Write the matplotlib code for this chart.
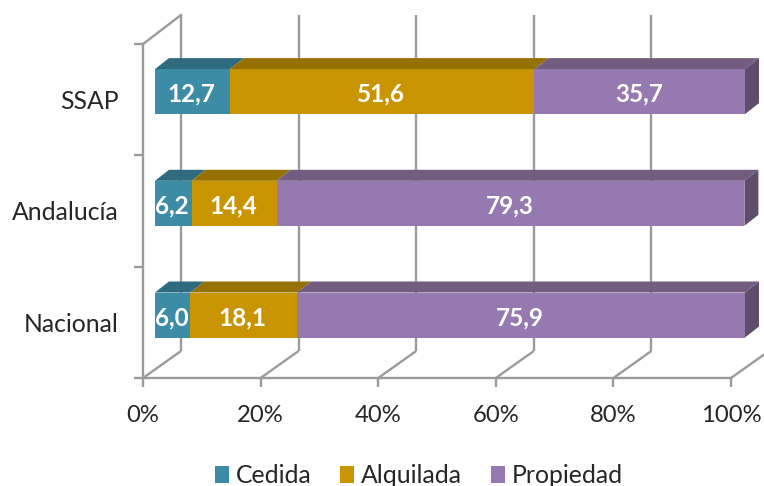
import numpy as np
import matplotlib
matplotlib.use("Agg")
import matplotlib.pyplot as plt
from matplotlib.patches import Polygon, Patch

# Stacked horizontal 3D-look bar chart, drawn on a flat axes
categories = ["Nacional", "Andalucía", "SSAP"]
series_names = ["Cedida", "Alquilada", "Propiedad"]
cedida = [6.0, 6.2, 12.7]
alquilada = [18.1, 14.4, 51.6]
propiedad = [75.9, 79.3, 35.7]
x_ticks = [0, 20, 40, 60, 80, 100]

front_colors = ["#3D8CA5", "#C89500", "#9579B0"]
top_colors = ["#2F6B7E", "#967000", "#725D80"]
side_color = "#5F4D6E"
grid_color = "#9B9B9B"
text_color = "#262626"

plt.rcParams["font.family"] = ["Lato", "DejaVu Sans"]

fig = plt.figure(figsize=(7.64, 4.86), dpi=100)
ax = fig.add_axes([0, 0, 1, 1])

# one data unit in x = 5.9 px, one category step = 112 px
xu = 5.9
yu = 111.7
ax.set_xlim(-155 / xu, (764 - 155) / xu)
ax.set_ylim((315 - 486) / yu, 315 / yu)
ax.axis("off")

# axis box in data units
ax_x0 = -12 / xu
ax_scale = 588 / 590
floor_y = -63 / yu
step_y = 111.3 / yu
wall_dx = 38 / xu
wall_dy = 27 / yu
wall_h = 336 / yu
bar_h = 45 / yu
bar_dx = 14 / xu
bar_dy = 11 / yu

# gridlines on back wall and floor
for t in x_ticks:
    fx = ax_x0 + t * ax_scale
    ax.plot([fx, fx + wall_dx], [floor_y, floor_y + wall_dy], color=grid_color, lw=1.7, solid_capstyle="butt")
    ax.plot([fx + wall_dx, fx + wall_dx], [floor_y + wall_dy, floor_y + wall_dy + wall_h], color=grid_color, lw=1.7, solid_capstyle="butt")
    ax.plot([fx, fx], [floor_y, floor_y - 9 / yu], color=grid_color, lw=1.7, solid_capstyle="butt")
    ax.text(fx, floor_y - 37 / yu, "%d%%" % t, ha="center", va="center", fontsize=17.2, color=text_color)

# left wall and front axis lines
top_y = floor_y + 3 * step_y
ax.plot([ax_x0, ax_x0], [floor_y, top_y], color=grid_color, lw=1.7)
ax.plot([ax_x0, ax_x0 + wall_dx], [top_y, floor_y + wall_dy + wall_h], color=grid_color, lw=1.7)
ax.plot([ax_x0, ax_x0 + 100 * ax_scale], [floor_y, floor_y], color=grid_color, lw=1.7)
for i in range(4):
    yt = floor_y + i * step_y
    ax.plot([ax_x0 - 9 / xu, ax_x0], [yt, yt], color=grid_color, lw=1.7, solid_capstyle="butt")

# bars
values = np.array([cedida, alquilada, propiedad])
y_pos = np.arange(len(categories))
left = np.zeros(len(categories))
for s in range(len(series_names)):
    ax.barh(y_pos, values[s], left=left, height=bar_h, color=front_colors[s], zorder=3)
    for i in y_pos:
        x0 = left[i]
        x1 = left[i] + values[s][i]
        yt = y_pos[i] + bar_h / 2
        ax.add_patch(Polygon([(x0, yt), (x1, yt), (x1 + bar_dx, yt + bar_dy), (x0 + bar_dx, yt + bar_dy)],
                             closed=True, facecolor=top_colors[s], edgecolor="none", zorder=3))
        ax.text((x0 + x1) / 2 - 1 / xu, y_pos[i] - 2.5 / yu, ("%.1f" % values[s][i]).replace(".", ","), ha="center", va="center",
                fontsize=17.5, fontweight="bold", color="white", zorder=4)
    left = left + values[s]

# right side of the bars
for i in y_pos:
    yb = y_pos[i] - bar_h / 2
    yt = y_pos[i] + bar_h / 2
    ax.add_patch(Polygon([(left[i], yb), (left[i], yt), (left[i] + bar_dx, yt + bar_dy), (left[i] + bar_dx, yb + bar_dy)],
                         closed=True, facecolor=side_color, edgecolor="none", zorder=3))

# category labels sit on the axis, a little below the bar centre
for i in y_pos:
    ax.text(-36.5 / xu, y_pos[i] - 9.5 / yu, categories[i], ha="right", va="center", fontsize=17.8, color=text_color)

handles = [Patch(facecolor=front_colors[s], label=series_names[s]) for s in range(3)]
ax.legend(handles=handles, ncol=3, frameon=False, loc="center", bbox_to_anchor=(0.5485, 0.0215),
          fontsize=17.8, labelcolor=text_color, handlelength=0.57, handleheight=0.65,
          handletextpad=0.28, columnspacing=1.15, borderpad=0, borderaxespad=0)

fig.savefig("out.png", dpi=100)
